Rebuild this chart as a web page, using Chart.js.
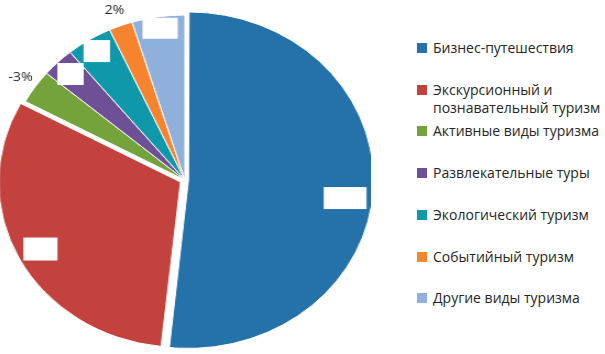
<!DOCTYPE html>
<html lang="ru">
<head>
<meta charset="utf-8">
<script src="https://cdn.jsdelivr.net/npm/chart.js@4"></script>
<style>
    html, body { margin: 0; padding: 0; background: #fff; overflow: hidden; }
    body { width: 605px; height: 354px; position: relative; font-family: "Open Sans", sans-serif; }
    #pieWrap { position: absolute; left: -1px; top: 0; width: 338px; height: 354px; transform: scaleX(1.1); transform-origin: 0 0; }
    #legend { position: absolute; left: 417px; top: 0; }
    .legend-item { position: absolute; left: 0; width: 175px; font-size: 14px; line-height: 18px; color: #262626; padding-left: 16px; }
    .legend-item .swatch { position: absolute; left: 0; top: 4px; width: 10px; height: 10px; }
</style>
</head>
<body>
<div id="pieWrap"><canvas id="tourismPie" width="338" height="354"></canvas></div>
<div id="legend"></div>
<script>
const categories = [
    'Бизнес-путешествия',
    'Экскурсионный и познавательный туризм',
    'Активные виды туризма',
    'Развлекательные туры',
    'Экологический туризм',
    'Событийный туризм',
    'Другие виды туризма'
];
const shares = [51.7, 31.2, 3.3, 2.9, 4.1, 2.1, 4.7];
// labels that are readable in the source; the rest are covered by white boxes
const valueLabels = [null, null, '-3%', null, null, '2%', null];

const colors = ['#2571aa', '#c3423e', '#74a33c', '#6f4f96', '#0e98aa', '#f6842f', '#8fb0da'];
const coverSizes = [[39, 22], [31, 23], [21, 22], [24, 22], [24, 22], [0, 0], [32, 21]];
const coverRadius = [0.85, 0.87, 0.9, 0.9, 0.92, 0.9, 0.93];
const legendTops = [39, 81, 122, 164, 206, 248, 289];

const legend = document.getElementById('legend');
categories.forEach((name, i) => {
    const item = document.createElement('div');
    item.className = 'legend-item';
    item.style.top = legendTops[i] + 'px';
    item.innerHTML = `<span class="swatch" style="background:${colors[i]}"></span>${name}`;
    legend.appendChild(item);
});

const sliceLabels = {
    id: 'sliceLabels',
    afterDatasetsDraw(chart) {
        const ctx = chart.ctx;
        const meta = chart.getDatasetMeta(0);
        const offsets = chart.data.datasets[0].offset;
        ctx.save();
        meta.data.forEach((arc, i) => {
            const p = arc.getProps(['x', 'y', 'startAngle', 'endAngle', 'outerRadius', 'circumference'], true);
            const mid = (p.startAngle + p.endAngle) / 2;
            // same shift that ArcElement applies for "offset"
            const off = (offsets[i] || 0) / 4 * (2 - Math.sin(Math.min(Math.PI, p.circumference)));
            if (valueLabels[i] === null) {
                const r = p.outerRadius * coverRadius[i] + off;
                const a = i === 0 ? mid + 0.07 : mid;
                const cx = p.x + Math.cos(a) * r;
                const cy = p.y + Math.sin(a) * r;
                const [w, h] = coverSizes[i];
                ctx.fillStyle = '#ffffff';
                ctx.fillRect(cx - w / 2, cy - h / 2, w, h);
            } else {
                const r = p.outerRadius + 16;
                const cx = p.x + Math.cos(mid) * r;
                const cy = p.y + Math.sin(mid) * r;
                ctx.fillStyle = '#262626';
                ctx.font = '13px "Open Sans", sans-serif';
                ctx.textAlign = 'center';
                ctx.textBaseline = 'middle';
                ctx.fillText(valueLabels[i], cx, cy);
            }
        });
        ctx.restore();
    }
};

new Chart(document.getElementById('tourismPie'), {
    type: 'pie',
    data: {
        labels: categories,
        datasets: [{
            data: shares,
            backgroundColor: colors,
            borderColor: '#ffffff',
            borderWidth: 1,
            offset: [13, 18, 0, 0, 0, 0, 0]
        }]
    },
    options: {
        responsive: false,
        animation: false,
        radius: 165,
        layout: { padding: { top: 6 } },
        plugins: {
            legend: { display: false },
            tooltip: { enabled: false }
        }
    },
    plugins: [sliceLabels]
});
</script>
</body>
</html>
